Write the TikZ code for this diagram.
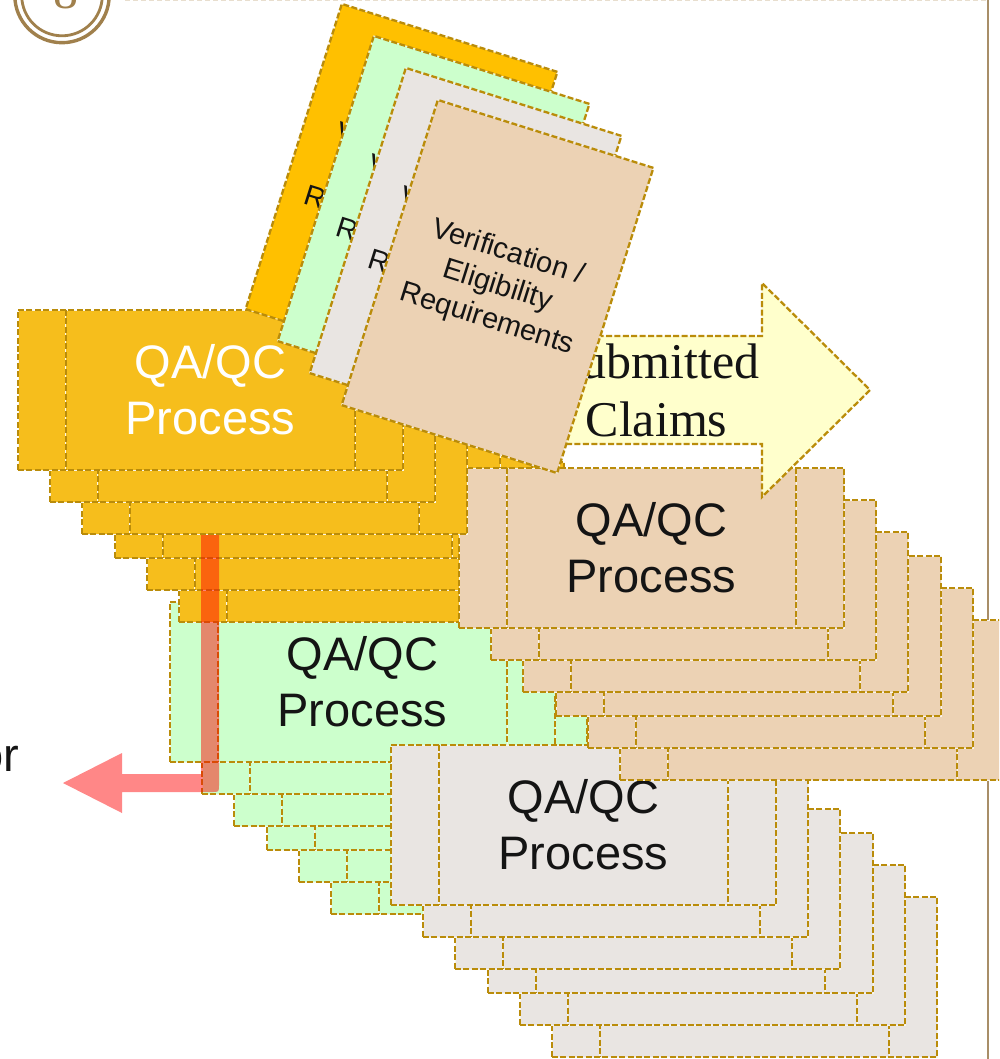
\documentclass[tikz,border=0pt]{standalone}
\usepackage{fontspec}
\newfontfamily\arial{Liberation Sans}
\newfontfamily\serifclaims{Liberation Serif}
\definecolor{gold}{HTML}{BA8C0A}
\definecolor{orS}{HTML}{F6BE1C}
\definecolor{orP}{HTML}{FFC000}
\definecolor{grn}{HTML}{CCFFCC}
\definecolor{gry}{HTML}{E9E5E2}
\definecolor{tanF}{HTML}{ECD2B4}
\definecolor{ylw}{HTML}{FFFFCC}
\definecolor{txt}{HTML}{141414}
\definecolor{ring}{HTML}{A0804C}
\definecolor{vline}{HTML}{A88E68}
\definecolor{topd}{HTML}{E8DECE}
\newcommand\qr[4]{%
  \node[qbox,#3] (#1) at (#2) {#4};
  \draw[wline] ([xshift=48pt]#1.north west) -- ([xshift=48pt]#1.south west)
               ([xshift=-48pt]#1.north east) -- ([xshift=-48pt]#1.south east);
  \draw[dline] ([xshift=48pt]#1.north west) -- ([xshift=48pt]#1.south west)
               ([xshift=-48pt]#1.north east) -- ([xshift=-48pt]#1.south east);
}
\begin{document}
\begin{tikzpicture}[x=1pt,y=-1pt,
  wline/.style={draw=white!60!gold!20, line width=0.8pt},
  dline/.style={draw=gold, line width=2.3pt, dash pattern=on 6pt off 2.4pt},
  qbox/.style={rectangle, inner sep=0pt, minimum width=385pt, minimum height=160pt,
    align=center, font=\arial\fontsize{47}{56}\selectfont, text=txt,
    postaction={wline}, postaction={dline}},
  page/.style={rectangle, inner sep=0pt, minimum width=226pt, minimum height=320pt,
    rotate=-17.5, align=center, font=\arial\fontsize{29}{35}\selectfont, text=txt,
    postaction={wline}, postaction={dline}},
  ]
\useasboundingbox (0,0) rectangle (999,1059);
\clip (0,0) rectangle (999,1059);
\fill[white] (0,0) rectangle (999,1059);

% frame decorations
\draw[topd, line width=1.8pt, dash pattern=on 5pt off 3pt] (125,0.6) -- (988,0.6);
\draw[vline, line width=2.2pt] (988.3,0) -- (988.3,1059);
\draw[ring, line width=3.4pt] (62,-4.5) circle[radius=47.2pt];
\draw[ring, line width=2.8pt] (62,-4.5) circle[radius=40.3pt];
\node[anchor=base, inner sep=0pt, text=ring, font=\serifclaims\fontsize{50}{50}\selectfont] (num) at (65.5,8.3) {8};

% green stack
\qr{g6}{523.5,834}{fill=grn}{}
\qr{g5}{491.5,802}{fill=grn}{}
\qr{g4}{459.5,770}{fill=grn}{}
\qr{g3}{426.5,746}{fill=grn}{}
\qr{g2}{394.5,714}{fill=grn}{}
\qr{g1}{362.5,682}{fill=grn}{QA/QC\\Process}

% gray stack
\qr{y6}{744.5,977}{fill=gry}{}
\qr{y5}{712.5,945}{fill=gry}{}
\qr{y4}{680.5,913}{fill=gry}{}
\qr{y3}{647.5,889}{fill=gry}{}
\qr{y2}{615.5,857}{fill=gry}{}
\qr{y1}{583.5,825}{fill=gry}{QA/QC\\Process}

% orange stack (back part)
\qr{o6}{371.5,542}{fill=orS}{}
\qr{o5}{339.5,510}{fill=orS}{}
\qr{o4}{307.5,478}{fill=orS}{}

% tan stack
\qr{t6}{812.5,700}{fill=tanF}{}
\qr{t5}{780.5,668}{fill=tanF}{}
\qr{t4}{748.5,636}{fill=tanF}{}
\qr{t3}{715.5,612}{fill=tanF}{}
\qr{t2}{683.5,580}{fill=tanF}{}
\qr{t1}{651.5,548}{fill=tanF}{QA/QC\\Process}

% orange stack (front part)
\qr{o3}{274.5,454}{fill=orS}{}
\qr{o2}{242.5,422}{fill=orS}{}
\qr{o1}{210.5,390}{fill=orS, text=white}{QA/QC\\Process}

% submitted claims arrow
\path[fill=ylw, postaction={wline}, postaction={dline}]
  (480,336) -- (762,336) -- (762,283) -- (870,390) -- (762,497) -- (762,444) -- (480,444) -- cycle;
\node[inner sep=0pt, align=center, font=\serifclaims\fontsize{50}{58}\selectfont, text=txt] (claims)
  at (656.5,390.5) {Submitted\\Claims};

% requirement pages
\node[page, fill=orP] (p1) at (401.5,190.5) {Verification /\\Eligibility\\Requirements};
\node[page, fill=grn] (p2) at (433.5,222.5) {Verification /\\Eligibility\\Requirements};
\node[page, fill=gry] (p3) at (465.5,254.5) {Verification /\\Eligibility\\Requirements};
\node[page, fill=tanF] (p4) at (497.5,286.5) {Verification /\\Eligibility\\Requirements};

% red elbow arrow
\fill[red, opacity=0.47] (201,535) -- (219,535) -- (219,785) .. controls (219,792) .. (212,792)
  -- (122,792) -- (122,813) -- (63,783) -- (122,753) -- (122,774) -- (201,774) -- cycle;

\node[anchor=base east, inner sep=0pt, font=\arial\fontsize{47}{56}\selectfont, text=txt] (ortxt)
  at (19.5,771) {or};
\end{tikzpicture}
\end{document}
